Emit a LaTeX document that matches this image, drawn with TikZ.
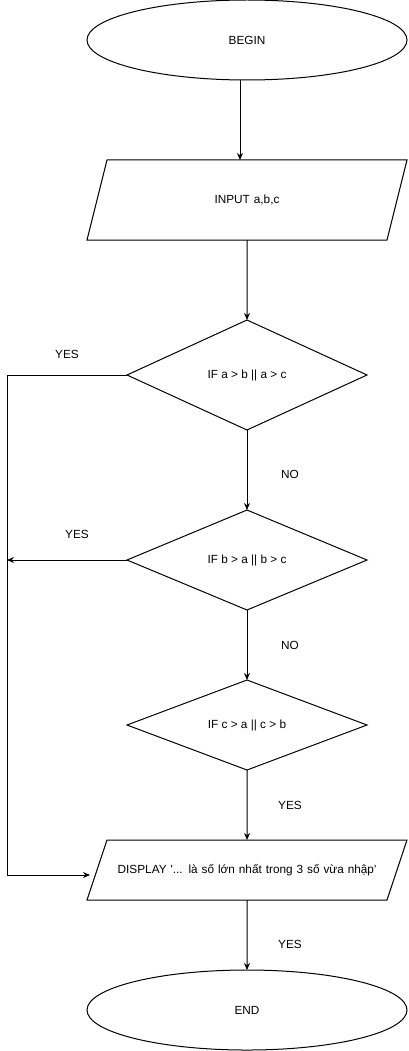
\documentclass[tikz,border=0pt]{standalone}
\usepackage{fontspec}
\setmainfont{Liberation Sans}
\usetikzlibrary{shapes.geometric, arrows.meta, positioning}

\begin{document}
\begin{tikzpicture}[
    x=1pt, y=1pt,
    % Global styles
    font=\fontsize{11.8}{14}\selectfont,
    node distance=80pt,
    % Box styles
    terminal/.style={
        ellipse,
        minimum width=320pt,
        minimum height=80pt,
        text centered,
        draw=black,
        line width=1pt,
        outer sep=0pt
    },
    io/.style={
        trapezium,
        inner xsep=0pt,
        text width=280pt,
        align=center,
        text height=8.5pt,
        text depth=2.5pt,
        draw=black,
        line width=1pt,
        outer sep=0pt
    },
    decision/.style={
        diamond,
        aspect=2.2,
        minimum width=240pt,
        text centered,
        draw=black,
        line width=1pt,
        outer sep=0pt
    },
    arrow/.style={
        line width=1pt,
        -{Stealth[length=7pt, width=6pt]},
        color=black
    },
    lbl/.style={
        font=\fontsize{11.8}{14}\selectfont,
        text=black
    }
]
\useasboundingbox (0,0) rectangle (408,-1051);

% --- Nodes ---
\node (begin) [terminal] at (247,-40) {BEGIN};
\node (input) [io, below=of begin, inner ysep=34.5pt,
    trapezium left angle=75.96, trapezium right angle=104.04] {INPUT a,b,c};

% Decisions
\node (d1) [decision, below=of input, minimum height=110pt] {IF a > b || a > c};
\node (d2) [decision, below=of d1, minimum height=100pt] {IF b > a || b > c};
\node (d3) [decision, below=70pt of d2, minimum height=90pt] {IF c > a || c > b};

% Output
\node (display) [io, below=70pt of d3, inner ysep=24.5pt,
    trapezium left angle=71.57, trapezium right angle=108.43]
    {DISPLAY \textquotesingle... là số lớn nhất trong 3 số vừa nhập\textquotesingle};
\node (end) [terminal, below=70pt of display] {END};

% Left rail
\coordinate (dispin) at ([xshift=-7pt, yshift=-5pt]display.west);
\coordinate (rail) at (7,0);

% --- Edges ---
\draw [arrow] ([xshift=-7pt]begin.south) -- ([xshift=-7pt]input.north);
\draw [arrow] (input) -- (d1);
\draw [arrow] (d1) -- (d2) node[midway, lbl, xshift=43pt, yshift=-4pt] {NO};
\draw [arrow] (d2) -- (d3) node[midway, lbl, xshift=43pt] {NO};
\draw [arrow] (d3) -- (display) node[midway, lbl, xshift=43pt] {YES};
\draw [arrow] (display) -- (end) node[midway, lbl, xshift=43pt, yshift=-9pt] {YES};

% YES branches
\draw [arrow] (d1.west) -- node[lbl, yshift=21pt] {YES} (rail |- d1.west) -- (rail |- dispin) -- (dispin);
\draw [arrow] (d2.west) -- node[lbl, xshift=10pt, yshift=26pt] {YES} (rail |- d2.west);

\end{tikzpicture}
\end{document}
